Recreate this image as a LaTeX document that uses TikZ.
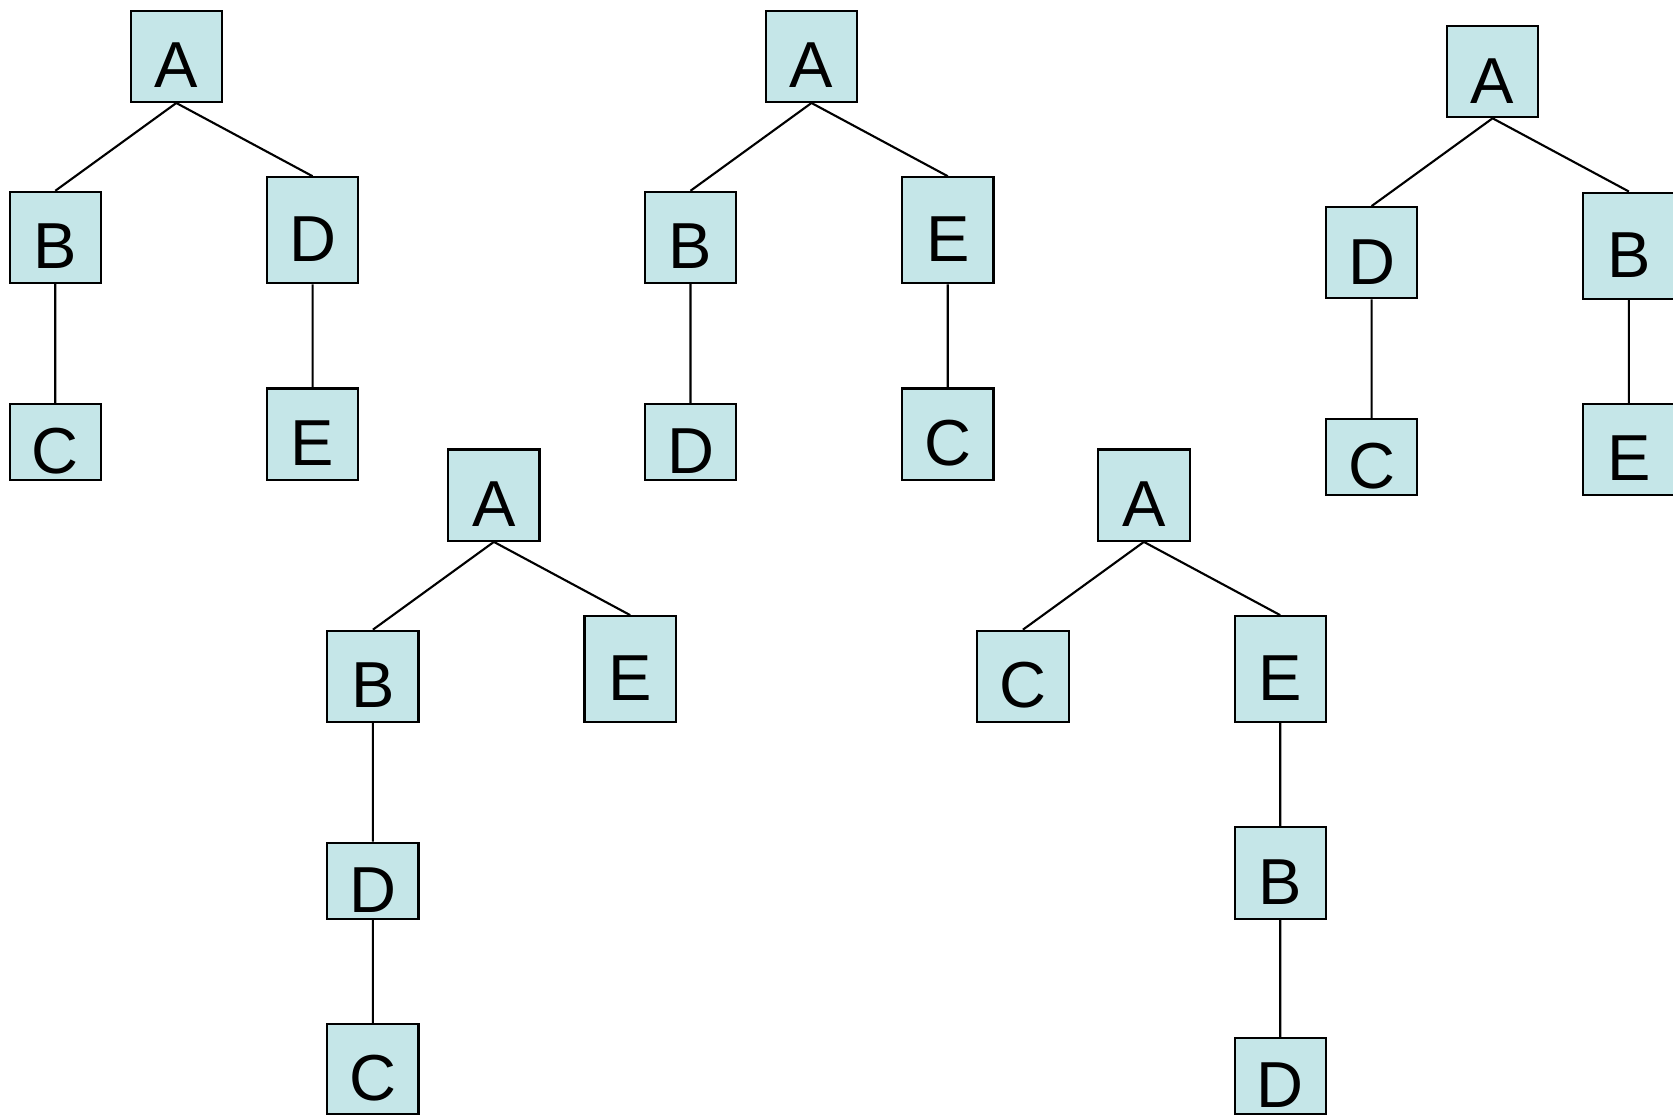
\documentclass[tikz,border=0pt]{standalone}
\usepackage{fontspec}
\setmainfont{Liberation Sans}
\usepackage{tikz}
\usetikzlibrary{positioning}
\definecolor{paleteal}{RGB}{197,230,232}
\tikzset{
  tbox/.style={draw=black, line width=0.6pt, fill=paleteal, minimum width=0.913cm, minimum height=0.913cm,
    inner sep=0pt, text height=0.629cm, text depth=0pt, font=\fontsize{18.5}{20}\selectfont},
  tallbox/.style={tbox, minimum height=1.06cm},
  shortbox/.style={tbox, minimum height=0.76cm},
  link/.style={line width=0.6pt}
}

\begin{document}
\begin{tikzpicture}
\useasboundingbox (0,0) rectangle (16.73,-11.15);

\begin{scope}[shift={(1.307,-0.107)}]
  \node[tbox] (a1) at (0.456,-0.456) {A};
  \node[tbox] (b1) at (-0.754,-2.268) {B};
  \node[tallbox] (d1) at (1.819,-2.196) {D};
  \node[shortbox] (c1) at (-0.754,-4.312) {C};
  \node[tbox] (e1) at (1.819,-4.235) {E};
\end{scope}

\begin{scope}[shift={(7.659,-0.107)}]
  \node[tbox] (a2) at (0.456,-0.456) {A};
  \node[tbox] (b2) at (-0.754,-2.268) {B};
  \node[tallbox] (e2) at (1.819,-2.196) {E};
  \node[shortbox] (d2) at (-0.754,-4.312) {D};
  \node[tbox] (c2) at (1.819,-4.235) {C};
\end{scope}

\begin{scope}[shift={(14.47,-0.26)}]
  \node[tbox] (a3) at (0.456,-0.456) {A};
  \node[tbox] (d3) at (-0.754,-2.268) {D};
  \node[tallbox] (b3) at (1.819,-2.196) {B};
  \node[shortbox] (c3) at (-0.754,-4.312) {C};
  \node[tbox] (e3) at (1.819,-4.235) {E};
\end{scope}

\begin{scope}[shift={(4.483,-4.496)}]
  \node[tbox] (a4) at (0.456,-0.456) {A};
  \node[tbox] (b4) at (-0.754,-2.268) {B};
  \node[tallbox] (e4) at (1.819,-2.196) {E};
  \node[shortbox] (d4) at (-0.754,-4.312) {D};
  \node[tbox, minimum height=0.9cm] (c4) at (-0.754,-6.194) {C};
\end{scope}

\begin{scope}[shift={(10.983,-4.496)}]
  \node[tbox] (a5) at (0.456,-0.456) {A};
  \node[tbox] (c5) at (-0.754,-2.268) {C};
  \node[tallbox] (e5) at (1.819,-2.196) {E};
  \node[tbox] (b5) at (1.819,-4.235) {B};
  \node[shortbox] (d5) at (1.819,-6.264) {D};
\end{scope}

\draw[link] (a1.south) -- (b1.north) (a1.south) -- (d1.north)
  (b1.south) -- (c1.north) (d1.south) -- (e1.north);
\draw[link] (a2.south) -- (b2.north) (a2.south) -- (e2.north)
  (b2.south) -- (d2.north) (e2.south) -- (c2.north);
\draw[link] (a3.south) -- (d3.north) (a3.south) -- (b3.north)
  (d3.south) -- (c3.north) (b3.south) -- (e3.north);
\draw[link] (a4.south) -- (b4.north) (a4.south) -- (e4.north)
  (b4.south) -- (d4.north) (d4.south) -- (c4.north);
\draw[link] (a5.south) -- (c5.north) (a5.south) -- (e5.north)
  (e5.south) -- (b5.north) (b5.south) -- (d5.north);
\end{tikzpicture}
\end{document}
